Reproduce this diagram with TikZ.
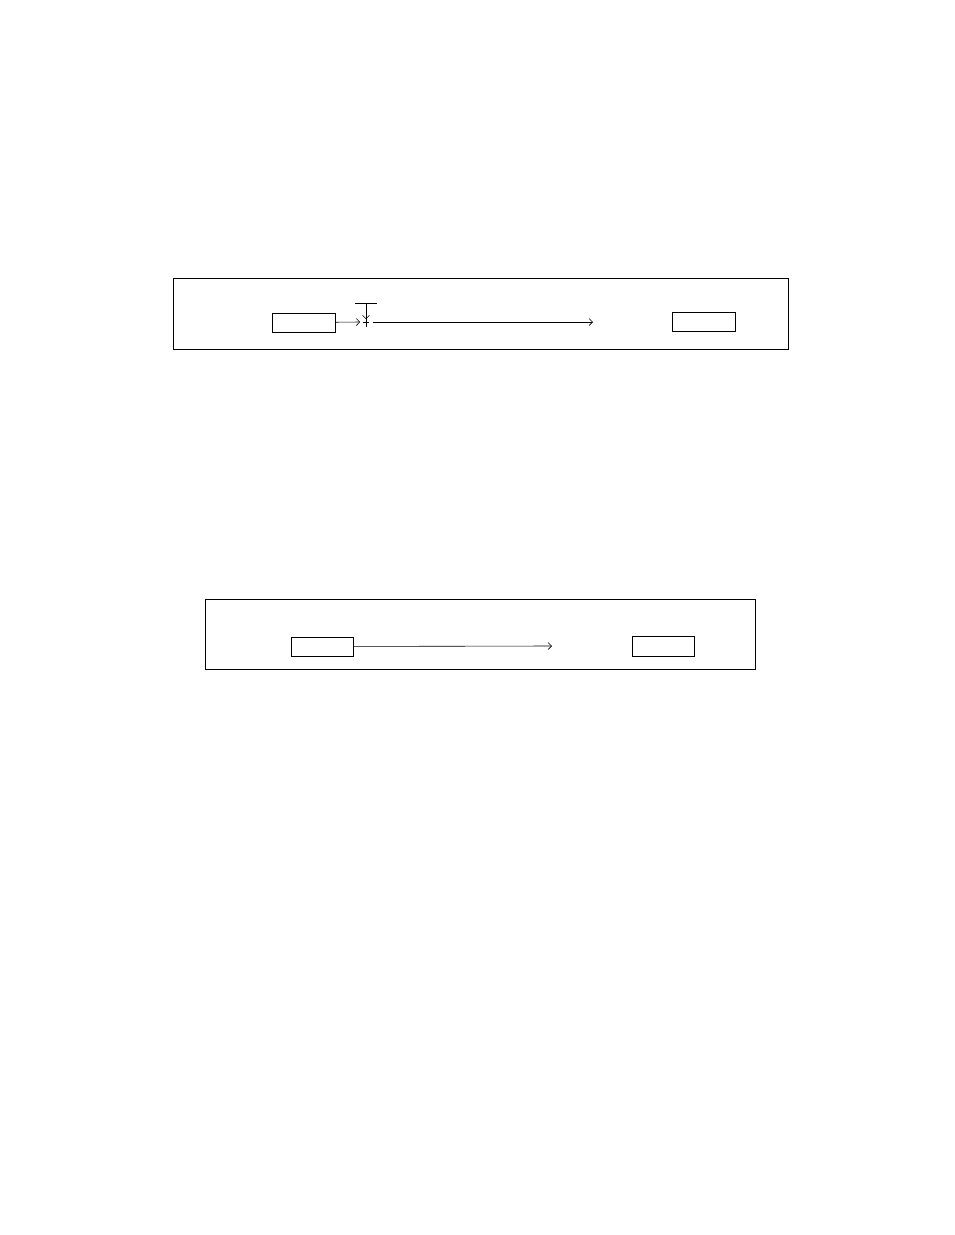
\documentclass[tikz,border=0pt]{standalone}
\usetikzlibrary{arrows, arrows.meta, positioning}

\begin{document}
\begin{tikzpicture}[
    x=1pt, y=-1pt, line width=0.6pt,
    block/.style={draw, line width=0.8pt, minimum height=19pt, minimum width=63pt, inner sep=0pt},
    sumpt/.style={draw=none, inner sep=0pt, minimum size=9pt},
    frame/.style={draw, line width=0.8pt},
    >={Straight Barb[length=3.5pt, width=7pt]}
    ]
    \useasboundingbox (0,0) rectangle (954,1235);

    % upper loop
    \draw[frame] (173,278) rectangle (788,349);
    \node[block]  (u1)  at (303.5,322.5)  {};
    \node[block]  (u2)  at (703.5,321.5)  {};
    \node[sumpt]  (sum) at (366,322)      {};
    \coordinate   (bar) at (366,303);
    \coordinate   (uout) at (593,322);

    \draw (sum.north) -- (sum.south) ([xshift=1.5pt]sum.west) -- ([xshift=-1.5pt]sum.east);
    \draw ([xshift=-11pt]bar) -- ([xshift=11pt]bar);

    \path[->]
      (u1)   edge  ([xshift=-1pt]sum.west)
      (bar)  edge  ([yshift=-2pt]sum.north)
      ([xshift=2pt]sum.east)  edge  (uout)
    ;

    % lower loop
    \draw[frame] (205,599) rectangle (755,669);
    \node[block, minimum width=62pt]  (l1)  at (322,646.5)  {};
    \node[block, minimum width=62pt, minimum height=20pt]  (l2)  at (663,646)  {};
    \coordinate   (lout) at (552,646);

    \path[->]
      (l1)  edge  (lout)
    ;
\end{tikzpicture}
\end{document}
